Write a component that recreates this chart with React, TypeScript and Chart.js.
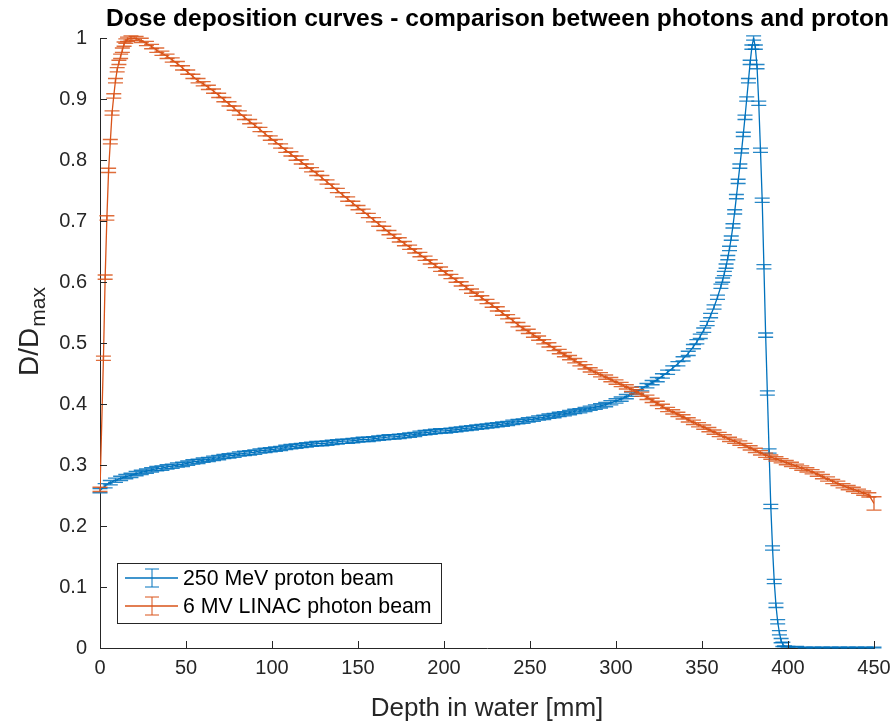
import React, { useEffect, useRef } from 'react';
import { Chart, registerables } from 'chart.js';

Chart.register(...registerables);

const titleText = 'Dose deposition curves - comparison between photons and proton';
const xTitle = 'Depth in water [mm]';
const yTitleMain = 'D/D';
const yTitleSub = 'max';
const legendLabels = ['250 MeV proton beam', '6 MV LINAC photon beam'];
const xTickValues = [0, 50, 100, 150, 200, 250, 300, 350, 400, 450];
const yTickLabels = ['0', '0.1', '0.2', '0.3', '0.4', '0.5', '0.6', '0.7', '0.8', '0.9', '1'];

const protonDepth = [
  0, 3, 6, 9, 12, 15, 18, 21, 24, 27,
  30, 33, 36, 39, 42, 45, 48, 51, 54, 57,
  60, 63, 66, 69, 72, 75, 78, 81, 84, 87,
  90, 93, 96, 99, 102, 105, 108, 111, 114, 117,
  120, 123, 126, 129, 132, 135, 138, 141, 144, 147,
  150, 153, 156, 159, 162, 165, 168, 171, 174, 177,
  180, 183, 186, 189, 192, 195, 198, 201, 204, 207,
  210, 213, 216, 219, 222, 225, 228, 231, 234, 237,
  240, 243, 246, 249, 252, 255, 258, 261, 264, 267,
  270, 273, 276, 279, 282, 285, 288, 291, 294, 297,
  300, 303, 306, 309, 312, 315, 318, 321, 324, 327,
  330, 333, 336, 339, 342, 345, 347, 349, 351, 353,
  355, 357, 359, 361, 362, 363, 364, 365, 366, 367,
  368, 369, 370, 371, 372, 373, 374, 375, 376, 377,
  378, 379, 380, 381, 382, 383, 384, 385, 386, 387,
  388, 389, 390, 391, 392, 393, 394, 395, 396, 397,
  398, 400, 405, 410, 415, 420, 425, 430, 435, 440,
  445, 450,
];
const protonDose = [
  0.258, 0.266, 0.271, 0.275, 0.278, 0.281, 0.283, 0.286, 0.288, 0.290,
  0.292, 0.294, 0.295, 0.297, 0.298, 0.300, 0.301, 0.303, 0.305, 0.306,
  0.308, 0.309, 0.311, 0.312, 0.314, 0.315, 0.316, 0.318, 0.319, 0.320,
  0.321, 0.323, 0.324, 0.325, 0.326, 0.327, 0.329, 0.330, 0.331, 0.332,
  0.333, 0.334, 0.335, 0.335, 0.336, 0.337, 0.338, 0.339, 0.339, 0.340,
  0.341, 0.342, 0.342, 0.343, 0.344, 0.345, 0.346, 0.346, 0.347, 0.348,
  0.349, 0.350, 0.352, 0.353, 0.354, 0.355, 0.356, 0.356, 0.357, 0.358,
  0.359, 0.360, 0.361, 0.362, 0.363, 0.364, 0.365, 0.366, 0.367, 0.368,
  0.370, 0.371, 0.372, 0.374, 0.375, 0.377, 0.378, 0.380, 0.381, 0.383,
  0.384, 0.386, 0.388, 0.389, 0.391, 0.393, 0.395, 0.397, 0.399, 0.402,
  0.405, 0.408, 0.412, 0.416, 0.420, 0.425, 0.430, 0.435, 0.440, 0.446,
  0.452, 0.459, 0.466, 0.474, 0.483, 0.494, 0.502, 0.511, 0.521, 0.532,
  0.545, 0.559, 0.575, 0.593, 0.603, 0.614, 0.626, 0.640, 0.655, 0.672,
  0.692, 0.715, 0.740, 0.765, 0.790, 0.815, 0.842, 0.870, 0.900, 0.930,
  0.960, 0.985, 1.000, 0.985, 0.953, 0.893, 0.816, 0.734, 0.625, 0.513,
  0.418, 0.323, 0.232, 0.164, 0.109, 0.070, 0.043, 0.025, 0.012, 0.006,
  0.003, 0.002, 0.002, 0.001, 0.001, 0.001, 0.001, 0.001, 0.001, 0.001,
  0.001, 0.001,
];
const protonError = 0.0035;

const photonDepth = [
  0, 2, 3, 4, 5, 6, 7, 8, 9, 10,
  11, 12, 13, 14, 15, 16, 18, 21, 24, 27,
  30, 33, 36, 39, 42, 45, 48, 51, 54, 57,
  60, 63, 66, 69, 72, 75, 78, 81, 84, 87,
  90, 93, 96, 99, 102, 105, 108, 111, 114, 117,
  120, 123, 126, 129, 132, 135, 138, 141, 144, 147,
  150, 153, 156, 159, 162, 165, 168, 171, 174, 177,
  180, 183, 186, 189, 192, 195, 198, 201, 204, 207,
  210, 213, 216, 219, 222, 225, 228, 231, 234, 237,
  240, 243, 246, 249, 252, 255, 258, 261, 264, 267,
  270, 273, 276, 279, 282, 285, 288, 291, 294, 297,
  300, 303, 306, 309, 312, 315, 318, 321, 324, 327,
  330, 333, 336, 339, 342, 345, 348, 351, 354, 357,
  360, 363, 366, 369, 372, 375, 378, 381, 384, 387,
  390, 393, 396, 399, 402, 405, 408, 411, 414, 417,
  420, 423, 426, 429, 432, 435, 438, 441, 444, 447,
  450,
];
const photonDose = [
  0.260, 0.475, 0.608, 0.705, 0.783, 0.830, 0.877, 0.905, 0.930, 0.948,
  0.960, 0.970, 0.980, 0.990, 0.995, 0.998, 1.000, 0.999, 0.996, 0.991,
  0.986, 0.980, 0.975, 0.970, 0.964, 0.958, 0.951, 0.944, 0.937, 0.930,
  0.925, 0.919, 0.913, 0.906, 0.899, 0.892, 0.885, 0.877, 0.870, 0.863,
  0.857, 0.850, 0.843, 0.836, 0.830, 0.823, 0.816, 0.810, 0.803, 0.797,
  0.790, 0.784, 0.778, 0.771, 0.764, 0.757, 0.750, 0.743, 0.736, 0.729,
  0.722, 0.716, 0.709, 0.702, 0.695, 0.688, 0.681, 0.675, 0.669, 0.663,
  0.657, 0.651, 0.645, 0.639, 0.633, 0.627, 0.621, 0.615, 0.609, 0.603,
  0.597, 0.591, 0.585, 0.580, 0.574, 0.568, 0.562, 0.556, 0.549, 0.543,
  0.537, 0.530, 0.524, 0.519, 0.513, 0.508, 0.502, 0.497, 0.491, 0.486,
  0.481, 0.476, 0.471, 0.466, 0.461, 0.456, 0.452, 0.448, 0.444, 0.440,
  0.436, 0.432, 0.428, 0.424, 0.420, 0.416, 0.411, 0.406, 0.401, 0.396,
  0.391, 0.387, 0.383, 0.379, 0.374, 0.370, 0.366, 0.362, 0.358, 0.354,
  0.350, 0.346, 0.342, 0.339, 0.336, 0.332, 0.328, 0.324, 0.320, 0.316,
  0.313, 0.310, 0.307, 0.304, 0.301, 0.298, 0.295, 0.292, 0.289, 0.285,
  0.281, 0.277, 0.273, 0.270, 0.266, 0.263, 0.260, 0.257, 0.254, 0.251,
  0.237,
];
const photonError = 0.0035;
const photonLastError = 0.011;

const BLUE = '#0072BD';
const ORANGE = '#D95319';
const AXIS = '#262626';
const FONT = '"Liberation Sans", Arial, Helvetica, sans-serif';

const errorBarPlugin = {
  id: 'errorBars',
  afterDatasetDraw(chart: any, args: any) {
    const ds: any = chart.data.datasets[args.index];
    const errs: number[] = ds.errors;
    if (!errs) return;
    const xs = chart.scales.x;
    const ys = chart.scales.y;
    const ctx = chart.ctx;
    ctx.save();
    ctx.strokeStyle = ds.borderColor;
    ctx.lineWidth = 1.4;
    ctx.globalAlpha = 0.85;
    ds.data.forEach((p: any, i: number) => {
      const e = errs[i];
      const px = xs.getPixelForValue(p.x);
      const t = ys.getPixelForValue(p.y + e);
      const b = ys.getPixelForValue(p.y - e);
      ctx.beginPath();
      ctx.moveTo(px, t);
      ctx.lineTo(px, b);
      ctx.moveTo(px - 7.5, t);
      ctx.lineTo(px + 7.5, t);
      ctx.moveTo(px - 7.5, b);
      ctx.lineTo(px + 7.5, b);
      ctx.stroke();
    });
    ctx.restore();
  },
};

const decorPlugin = {
  id: 'decor',
  afterDraw(chart: any) {
    const ctx = chart.ctx;
    const xs = chart.scales.x;
    const ys = chart.scales.y;
    const area = chart.chartArea;
    ctx.save();
    // inward ticks
    ctx.strokeStyle = AXIS;
    ctx.lineWidth = 1;
    ctx.beginPath();
    xs.ticks.forEach((t: any) => {
      const px = Math.round(xs.getPixelForValue(t.value)) + 0.5;
      ctx.moveTo(px, area.bottom);
      ctx.lineTo(px, area.bottom - 7);
    });
    ys.ticks.forEach((t: any) => {
      const py = Math.round(ys.getPixelForValue(t.value)) + 0.5;
      ctx.moveTo(area.left, py);
      ctx.lineTo(area.left + 7, py);
    });
    ctx.stroke();

    // title
    ctx.fillStyle = '#000';
    ctx.font = `bold 24.6px ${FONT}`;
    ctx.textAlign = 'left';
    ctx.textBaseline = 'alphabetic';
    ctx.fillText(titleText, 106, 26);

    // y title with subscript
    ctx.save();
    ctx.translate(38, 376);
    ctx.rotate(-Math.PI / 2);
    ctx.fillStyle = AXIS;
    ctx.font = `28px ${FONT}`;
    ctx.fillText(yTitleMain, 0, 0);
    const w = ctx.measureText(yTitleMain).width;
    ctx.font = `21px ${FONT}`;
    ctx.fillText(yTitleSub, w + 1, 7);
    ctx.restore();

    // legend
    const bx = 117.5, by = 563.5, bw = 324, bh = 60;
    ctx.fillStyle = '#fff';
    ctx.fillRect(bx, by, bw, bh);
    ctx.strokeStyle = AXIS;
    ctx.strokeRect(bx, by, bw, bh);
    const rows = [
      { label: legendLabels[0], color: BLUE, cy: 578 },
      { label: legendLabels[1], color: ORANGE, cy: 606 },
    ];
    rows.forEach((r) => {
      ctx.strokeStyle = r.color;
      ctx.lineWidth = 1.3;
      ctx.beginPath();
      ctx.moveTo(125, r.cy);
      ctx.lineTo(178, r.cy);
      ctx.stroke();
      ctx.lineWidth = 1;
      ctx.beginPath();
      ctx.moveTo(152, r.cy - 9);
      ctx.lineTo(152, r.cy + 9);
      ctx.moveTo(145, r.cy - 9);
      ctx.lineTo(159, r.cy - 9);
      ctx.moveTo(145, r.cy + 9);
      ctx.lineTo(159, r.cy + 9);
      ctx.stroke();
      ctx.fillStyle = '#000';
      ctx.font = `21.3px ${FONT}`;
      ctx.textBaseline = 'middle';
      ctx.fillText(r.label, 183, r.cy + 1);
    });
    ctx.restore();
  },
};

export default function App() {
  const ref = useRef<HTMLCanvasElement>(null);
  useEffect(() => {
    if (!ref.current) return;
    const yTickValues = yTickLabels.map(Number);
    const chart = new Chart(ref.current, {
      type: 'scatter',
      data: {
        datasets: [
          {
            label: legendLabels[0],
            data: protonDepth.map((x, i) => ({ x, y: protonDose[i] })),
            errors: protonDose.map((d) => (d > 0.004 ? protonError : 0.0005)),
            showLine: true,
            borderColor: BLUE,
            backgroundColor: BLUE,
            borderWidth: 1.3,
            pointRadius: 0,
            tension: 0,
            order: 1,
          } as any,
          {
            label: legendLabels[1],
            data: photonDepth.map((x, i) => ({ x, y: photonDose[i] })),
            errors: photonDose.map((_, i) => (i === photonDose.length - 1 ? photonLastError : photonError)),
            showLine: true,
            borderColor: ORANGE,
            backgroundColor: ORANGE,
            borderWidth: 1.3,
            pointRadius: 0,
            tension: 0,
            order: 0,
          } as any,
        ],
      },
      options: {
        animation: false,
        responsive: false,
        layout: { padding: { top: 38, right: 22, left: 0, bottom: 0 } },
        plugins: {
          legend: { display: false },
          tooltip: { enabled: false },
          title: { display: false },
        },
        scales: {
          x: {
            type: 'linear',
            min: 0,
            max: 450,
            afterBuildTicks: (s: any) => {
              s.ticks = xTickValues.map((v) => ({ value: v }));
            },
            afterFit: (s: any) => {
              s.height = 77;
            },
            grid: { display: false },
            border: { display: true, color: AXIS, width: 1 },
            ticks: {
              color: AXIS,
              font: { family: FONT, size: 20 },
              padding: 0,
              maxRotation: 0,
              autoSkip: false,
              callback: (v: any) => String(v),
            },
            title: {
              display: true,
              text: xTitle,
              color: AXIS,
              font: { family: FONT, size: 26 },
              padding: { top: 0, bottom: 1 },
            },
          },
          y: {
            type: 'linear',
            min: 0,
            max: 1,
            afterBuildTicks: (s: any) => {
              s.ticks = yTickValues.map((v) => ({ value: v }));
            },
            afterFit: (s: any) => {
              s.width = 100;
            },
            grid: { display: false },
            border: { display: true, color: AXIS, width: 1 },
            ticks: {
              color: AXIS,
              font: { family: FONT, size: 20 },
              padding: 5,
              autoSkip: false,
              callback: (v: any) => {
                const i = yTickValues.findIndex((t) => Math.abs(t - v) < 1e-9);
                return i >= 0 ? yTickLabels[i] : '';
              },
            },
          },
        },
      },
      plugins: [errorBarPlugin, decorPlugin],
    } as any);
    return () => chart.destroy();
  }, []);
  return (
    <div style={{ position: 'absolute', left: 0, top: 0, width: 896, height: 725, background: '#fff' }}>
      <canvas ref={ref} width={896} height={725} style={{ display: 'block' }} />
    </div>
  );
}
